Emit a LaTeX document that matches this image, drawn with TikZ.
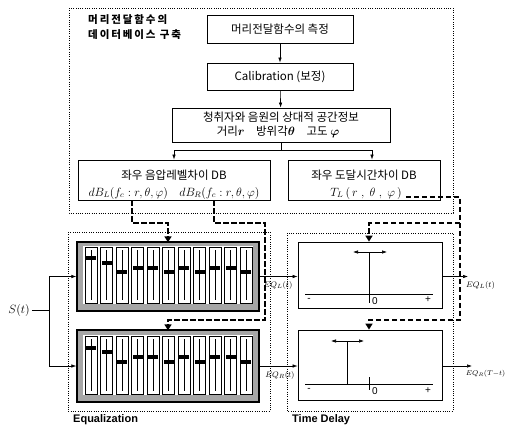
\documentclass[tikz,border=0pt]{standalone}
\usepackage{fontspec}
\usepackage{amsmath}
\usepackage{bm}
\setmainfont{Liberation Sans}
\newfontfamily\kr{Noto Sans CJK KR}
\usetikzlibrary{arrows.meta}
\begin{document}
\begin{tikzpicture}[x=1pt,y=-1pt,
 box/.style={draw,line width=0.8pt,inner sep=0pt},
 krt/.style={font=\kr\fontsize{11.5}{13}\selectfont,inner sep=0pt},
 mathtxt/.style={font=\fontsize{11.5}{13}\selectfont,inner sep=0pt},
 dotframe/.style={line width=0.7pt,dash pattern=on 0.8pt off 1.5pt},
 hdash/.style={line width=2.2pt,dash pattern=on 5.5pt off 2.5pt},
 htip/.style={-{Triangle[length=6pt,width=7pt]}},
 arr/.style={line width=0.6pt,-{Latex[length=5pt,width=3.5pt]}},
 darr/.style={line width=0.6pt,{Latex[length=5pt,width=3.5pt]}-{Latex[length=5pt,width=3.5pt]}},
 eqlab/.style={inner sep=0pt,font=\fontsize{8}{9}\selectfont},
 bank/.style={draw,line width=1.3pt,fill=black!35,minimum width=182pt,inner sep=0pt},
 tdbox/.style={draw,line width=0.8pt,minimum width=144pt,inner sep=0pt},
 grp/.style={font=\bfseries\fontsize{11}{13}\selectfont,inner sep=0pt,anchor=west},
 axlab/.style={font=\fontsize{10}{12}\selectfont,inner sep=0pt},
 ttl/.style={anchor=west,inner sep=0pt,font=\kr\bfseries\fontsize{10.5}{12}\selectfont\addfontfeatures{LetterSpace=18}}
]
\useasboundingbox (0,0) rectangle (507,429);

% dotted frames
\draw[dotframe] (69,8) rectangle (453,213);
\draw[dotframe] (68,232) rectangle (270,411);
\draw[dotframe] (287,233) rectangle (453,411);

% title
\node[ttl] (t1) at (88,20) {머리전달함수의};
\node[ttl] (t2) at (88,35) {데이터베이스 구축};

% database boxes
\node[box,minimum width=146pt,minimum height=28pt,krt] (m1) at (280,29) {머리전달함수의 측정};
\node[box,minimum width=146pt,minimum height=27pt,krt] (m2) at (280,76.5) {Calibration (보정)};
\node[box,minimum width=218pt,minimum height=34pt] (m3) at (281,125) {};
\node[krt] (m3a) at (281,117) {청취자와 음원의 상대적 공간정보};
\node[krt] (m3b) at (278,132) {거리$\bm{r}$\quad 방위각$\bm{\theta}$\quad 고도 $\bm{\varphi}$};
\node[box,minimum width=192pt,minimum height=40pt] (d1) at (174,180) {};
\node[krt] (d1a) at (174,175) {좌우 음압레벨차이 DB};
\node[mathtxt] (d1b) at (174,193) {$dB_L(f_c : r,\theta,\varphi)\quad dB_R(f_c : r,\theta,\varphi)$};
\node[box,minimum width=152pt,minimum height=40pt] (d2) at (364,180) {};
\node[krt] (d2a) at (364,175) {좌우 도달시간차이 DB};
\node[mathtxt] (tl) at (366,193) {$T_L\,(\,r\;,\;\theta\;,\;\varphi\,)$};

\draw[arr] (m1) -- (m2);
\draw[arr] (m2) -- (m3);
\coordinate (sp) at (m3.south |- 0,150);
\draw[line width=0.6pt] (m3.south) -- (sp);
\draw[arr] (sp) -| (d1.north);
\draw[arr] (sp) -| (d2.north -| 372,0);

% equalizer banks
\node[bank,minimum height=69pt] (eqU) at (168,276.5) {};
\node[bank,minimum height=72pt] (eqL) at (168,366) {};
\fill[white] (83,246) rectangle (253,304);
\fill[white] (83,335) rectangle (253,395);
\foreach \k/\ky in {0/258,1/263,2/272,3/268,4/268,5/272,6/268,7/272,8/268,9/268,10/272}{
  \pgfmathsetmacro\xl{85+15.5*\k}
  \draw[line width=0.7pt,fill=white] (\xl,247) rectangle ++(12,56);
  \draw[line width=0.4pt] (\xl+6,250) -- (\xl+6,300);
  \fill (\xl+1,\ky-2.4) rectangle ++(10,4.8);
}
\foreach \k/\ky in {0/348,1/352,2/362,3/357,4/357,5/362,6/357,7/362,8/357,9/357,10/362}{
  \pgfmathsetmacro\xl{85+15.5*\k}
  \draw[line width=0.7pt,fill=white] (\xl,336) rectangle ++(12,58);
  \draw[line width=0.4pt] (\xl+6,339) -- (\xl+6,391);
  \fill (\xl+1,\ky-2.4) rectangle ++(10,4.8);
}

% input
\node[mathtxt] (s) at (19,310) {$S(t)$};
\coordinate (sj) at (49,310);
\draw[line width=0.6pt] ([xshift=2pt]s.east) -- (sj);
\draw[arr] (sj) |- (eqU.west);
\draw[arr] (sj) |- (eqL.west);

% time delay boxes
\node[tdbox,minimum height=66pt] (tdU) at (370,275) {};
\node[tdbox,minimum height=70pt] (tdL) at (370,365) {};
\draw[arr] (eqU.east) -- (eqU.east -| tdU.west);
\draw[arr] (eqL.east) -- (eqL.east -| tdL.west);
\node[eqlab] at (278,285) {$EQ_L(t)$};
\node[eqlab] at (280,375) {$EQ_R(t)$};
\coordinate (oU) at (468,276.5);
\coordinate (oL) at (472,366);
\draw[arr] (eqU.east -| tdU.east) -- (oU);
\draw[arr] (eqL.east -| tdL.east) -- (oL);
\node[eqlab,anchor=west] at (466,285) {$EQ_L(t)$};
\node[eqlab,anchor=east,font=\fontsize{7.5}{9}\selectfont] at (505.5,374) {$EQ_R(T{-}t)$};

% upper delay contents
\draw[line width=0.6pt] (305,294) -- (433,294);
\draw[line width=0.6pt] (369,252) -- (369,303);
\draw[darr] (353,252) -- (387,252);
\node[axlab] at (309,300) {-};
\node[axlab] at (375,301) {0};
\node[axlab] at (428,300) {+};
% lower delay contents
\draw[line width=0.6pt] (305,384) -- (433,384);
\draw[line width=0.6pt] (347,341) -- (347,384);
\draw[line width=0.6pt] (369,377) -- (369,390);
\draw[darr] (331,341) -- (364,341);
\node[axlab] at (309,390) {-};
\node[axlab] at (375,391) {0};
\node[axlab] at (428,391) {+};

% thick dashed control lines
\coordinate (tle) at ([xshift=4pt]tl.east);
\draw[hdash,htip] (d1.south -| 132,0) -- (132,223) -- (168,223) -- ([yshift=-1pt]eqU.north);
\draw[hdash,htip] (d1.south -| 214,0) -- (214,223) -- (265,223) -- (265,320) -- (168,320) -- ([yshift=-1pt]eqL.north);
\draw[hdash,htip] (tle |- 0,197) -- (460,197) -- (460,320) -- (369,320) -- (tdL.north -| 369,0);
\draw[hdash,htip] (460,223) -- (369,223) -- (tdU.north -| 369,0);

% group labels
\node[grp] at (73,420) {Equalization};
\node[grp] at (292,420) {Time Delay};
\end{tikzpicture}
\end{document}
